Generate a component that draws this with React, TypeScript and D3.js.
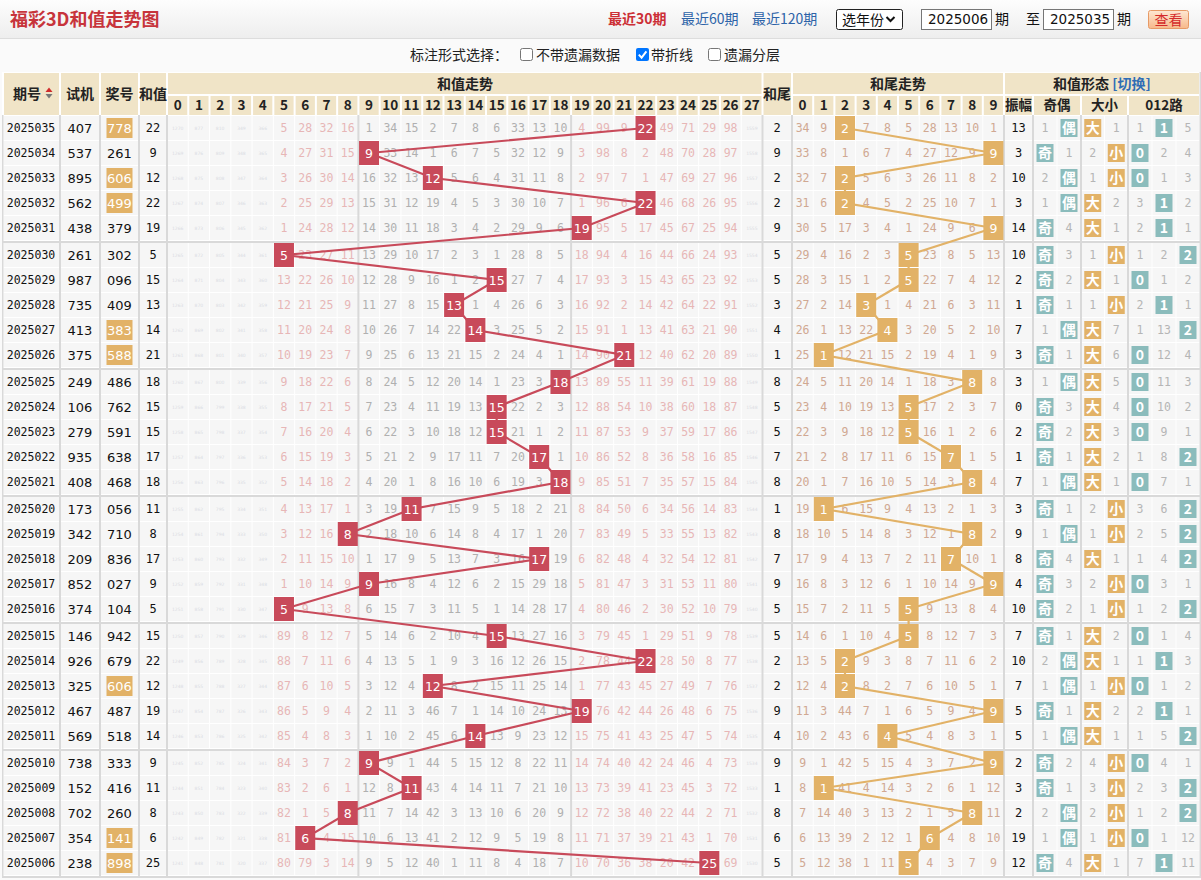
import React from 'react';
import * as d3 from 'd3';

// ---------- data (newest first, as shown top to bottom) ----------
const periods = ['2025035','2025034','2025033','2025032','2025031','2025030','2025029','2025028','2025027','2025026','2025025','2025024','2025023','2025022','2025021','2025020','2025019','2025018','2025017','2025016','2025015','2025014','2025013','2025012','2025011','2025010','2025009','2025008','2025007','2025006'];
const testNumbers = ['407','537','895','562','438','261','987','735','413','375','249','106','279','935','408','173','342','209','852','374','146','926','325','467','569','738','152','702','354','238'];
const prizeNumbers = ['778','261','606','499','379','302','096','409','383','588','486','762','591','638','468','056','710','836','027','104','942','679','606','487','518','333','416','260','141','898'];
const sumValues = [22,9,12,22,19,5,15,13,14,21,18,15,15,17,18,11,8,17,9,5,15,22,12,19,14,9,11,8,6,25];
const amplitudes = [13,3,10,3,14,10,2,1,7,3,3,0,2,1,7,3,9,8,4,10,7,10,7,5,5,2,3,2,19,12];

// omission values read on the oldest row (2025006); hit cells = 0
const sumMissOldest = [1241,848,781,320,337,80,79,3,14,9,5,12,40,1,11,8,4,18,7,10,70,36,38,20,42,0,69,1530];
const tailMissOldest = [5,12,38,1,11,0,4,3,7,9];
const oddEvenMissOldest = [0,4];
const bigSmallMissOldest = [0,1];
const mod3MissOldest = [7,0,11];

const sumTicks = d3.range(28).map(String);
const tailTicks = d3.range(10).map(String);
const oddEvenLabels = ['奇','偶'];
const bigSmallLabels = ['大','小'];
const mod3Labels = ['0','1','2'];

// ---------- helpers ----------
function missMatrix(hitIdx: number[], oldest: number[]): number[][] {
  const n = hitIdx.length;
  const out: number[][] = new Array(n);
  let prev = oldest.slice();
  out[n - 1] = prev;
  for (let i = n - 2; i >= 0; i--) {
    const cur = prev.map((v, c) => (c === hitIdx[i] ? 0 : v + 1));
    out[i] = cur;
    prev = cur;
  }
  return out;
}
const isPair = (s: string) => new Set(s.split('')).size === 2;

const CJK = '"Noto Sans CJK SC", "Noto Sans", sans-serif';
const MONO = '"DejaVu Sans Mono", monospace';
const SANS = '"DejaVu Sans", sans-serif';

const RED = '#c84a5a';
const ORANGE = '#e2b267';
const TEAL = '#8bbcbc';
const BEIGE = '#f0e4c7';
const CELL = '#f6f6f6';
const SEP = '#d9d9d9';

export default function App() {
  const N = periods.length;
  const tails = sumValues.map((s) => s % 10);
  const oe = sumValues.map((s) => (s % 2 === 1 ? 0 : 1));
  const bs = sumValues.map((s) => (s >= 14 ? 0 : 1));
  const m3 = sumValues.map((s) => s % 3);

  const sumMiss = missMatrix(sumValues, sumMissOldest);
  const tailMiss = missMatrix(tails, tailMissOldest);
  const oeMiss = missMatrix(oe, oddEvenMissOldest);
  const bsMiss = missMatrix(bs, bigSmallMissOldest);
  const m3Miss = missMatrix(m3, mod3MissOldest);

  const xSum = d3.scaleBand<number>().domain(d3.range(28)).range([167, 762.5]);
  const xTail = d3.scaleBand<number>().domain(d3.range(10)).range([792, 1004]);
  const xOE = d3.scaleBand<number>().domain([0, 1]).range([1033, 1081]);
  const xBS = d3.scaleBand<number>().domain([0, 1]).range([1081, 1128]);
  const xM3 = d3.scaleBand<number>().domain([0, 1, 2]).range([1128, 1200]);
  const yRow = d3.scaleLinear().domain([0, 1]).range([116, 141]);
  const rowTop = (i: number) => yRow(i) + Math.floor(i / 5) * 2;
  const RH = 24;

  const fixedCols: [number, number][] = [[3, 60], [60, 100], [100, 139], [139, 167], [762.5, 792], [1004, 1033]];
  const bandCols: [number, number][] = [];
  d3.range(28).forEach((c) => bandCols.push([xSum(c)!, xSum(c)! + xSum.bandwidth()]));
  d3.range(10).forEach((c) => bandCols.push([xTail(c)!, xTail(c)! + xTail.bandwidth()]));
  [0, 1].forEach((c) => bandCols.push([xOE(c)!, xOE(c)! + xOE.bandwidth()]));
  [0, 1].forEach((c) => bandCols.push([xBS(c)!, xBS(c)! + xBS.bandwidth()]));
  [0, 1, 2].forEach((c) => bandCols.push([xM3(c)!, xM3(c)! + xM3.bandwidth()]));
  const allCols = fixedCols.concat(bandCols);

  const cells: React.ReactNode[] = [];
  const texts: React.ReactNode[] = [];
  const marks: React.ReactNode[] = [];

  for (let i = 0; i < N; i++) {
    const top = rowTop(i);
    const cy = top + RH / 2;
    allCols.forEach(([a, b], k) => {
      cells.push(<rect key={`c${i}-${k}`} x={a + 0.5} y={top} width={b - a - 1} height={RH} fill={CELL} />);
    });
    texts.push(<text key={`p${i}`} x={31} y={cy} dy="0.35em" textAnchor="middle" fontFamily={MONO} fontSize={11.5} fill="#111">{periods[i]}</text>);
    texts.push(<text key={`t${i}`} x={80} y={cy} dy="0.36em" textAnchor="middle" fontFamily={SANS} fontSize={13} fill="#111">{testNumbers[i]}</text>);
    if (isPair(prizeNumbers[i])) {
      marks.push(<rect key={`ph${i}`} x={106.5} y={cy - 10} width={26} height={20} fill={ORANGE} />);
    }
    texts.push(<text key={`s${i}`} x={153} y={cy} dy="0.35em" textAnchor="middle" fontFamily={MONO} fontSize={12} fill="#111">{sumValues[i]}</text>);
    texts.push(<text key={`w${i}`} x={777} y={cy} dy="0.35em" textAnchor="middle" fontFamily={MONO} fontSize={12} fill="#111">{tails[i]}</text>);
    texts.push(<text key={`a${i}`} x={1018.5} y={cy} dy="0.35em" textAnchor="middle" fontFamily={MONO} fontSize={12} fill="#111">{amplitudes[i]}</text>);

    d3.range(28).forEach((c) => {
      if (c === sumValues[i]) return;
      const v = sumMiss[i][c];
      const cx = xSum(c)! + xSum.bandwidth() / 2;
      if (v >= 100) {
        texts.push(<text key={`sm${i}-${c}`} x={cx} y={cy} dy="0.35em" textAnchor="middle" fontFamily={SANS} fontSize={4.5} fill="#dadce3">{v}</text>);
      } else {
        const pink = c <= 8 || c >= 19;
        texts.push(<text key={`sm${i}-${c}`} x={cx} y={cy} dy="0.35em" textAnchor="middle" fontFamily={MONO} fontSize={11.5} fill={pink ? '#e7b6b6' : '#b0b0b0'}>{v}</text>);
      }
    });
    d3.range(10).forEach((c) => {
      if (c === tails[i]) return;
      const cx = xTail(c)! + xTail.bandwidth() / 2;
      texts.push(<text key={`tm${i}-${c}`} x={cx} y={cy} dy="0.35em" textAnchor="middle" fontFamily={MONO} fontSize={11.5} fill="#d0a892">{tailMiss[i][c]}</text>);
    });
    const formGroup = (scale: d3.ScaleBand<number>, hit: number, miss: number[], labels: string[], color: string, key: string) => {
      scale.domain().forEach((c) => {
        const cx = scale(c)! + scale.bandwidth() / 2;
        if (c === hit) {
          marks.push(<rect key={`${key}b${i}-${c}`} x={cx - 8.5} y={cy - 9} width={17} height={18} fill={color} />);
          marks.push(<text key={`${key}l${i}-${c}`} x={cx} y={cy} dy="0.36em" textAnchor="middle" fontFamily={CJK} fontWeight="bold" fontSize={14} fill="#fff">{labels[c]}</text>);
        } else {
          texts.push(<text key={`${key}m${i}-${c}`} x={cx} y={cy} dy="0.35em" textAnchor="middle" fontFamily={MONO} fontSize={11.5} fill="#b5b5b5">{miss[c]}</text>);
        }
      });
    };
    formGroup(xOE, oe[i], oeMiss[i], oddEvenLabels, TEAL, 'oe');
    formGroup(xBS, bs[i], bsMiss[i], bigSmallLabels, ORANGE, 'bs');
    formGroup(xM3, m3[i], m3Miss[i], mod3Labels, TEAL, 'm3');
  }

  const prizeTexts = prizeNumbers.map((p, i) => (
    <text key={`pt${i}`} x={119.5} y={rowTop(i) + RH / 2} dy="0.36em" textAnchor="middle" fontFamily={SANS} fontSize={13} fill={isPair(p) ? '#fff' : '#111'}>{p}</text>
  ));

  const line = d3.line<[number, number]>();
  const sumPts: [number, number][] = sumValues.map((s, i) => [xSum(s)! + xSum.bandwidth() / 2, rowTop(i) + RH / 2]);
  const tailPts: [number, number][] = tails.map((t, i) => [xTail(t)! + xTail.bandwidth() / 2, rowTop(i) + RH / 2]);

  const sumHits = sumValues.map((s, i) => {
    const [cx, cy] = sumPts[i];
    return (
      <g key={`sh${i}`}>
        <rect x={cx - 10} y={cy - 12} width={20} height={24} fill={RED} />
        <text x={cx} y={cy} dy="0.36em" textAnchor="middle" fontFamily={SANS} fontSize={12.5} fill="#fff">{s}</text>
      </g>
    );
  });
  const tailHits = tails.map((t, i) => {
    const [cx, cy] = tailPts[i];
    return (
      <g key={`th${i}`}>
        <rect x={cx - 10} y={cy - 12} width={20} height={24} fill={ORANGE} />
        <text x={cx} y={cy} dy="0.36em" textAnchor="middle" fontFamily={SANS} fontSize={12.5} fill="#fff">{t}</text>
      </g>
    );
  });

  const groupSeps = d3.range(1, 6).map((g) => (
    <rect key={`g${g}`} x={3} y={rowTop(g * 5) - 2} width={1197} height={2} fill={SEP} />
  ));
  const tableBottom = rowTop(N - 1) + RH;
  const vLines = [60, 100, 139, 167, xSum(9)!, xSum(19)!, 762.5, 792, 1004, 1033, 1081, 1128].map((x, k) => (
    <rect key={`v${k}`} x={x - 1} y={115} width={2} height={tableBottom - 115 + 1} fill={SEP} />
  ));

  const hdrBold = { fontFamily: CJK, fontWeight: 'bold' as const, fill: '#222' };
  const header: React.ReactNode[] = [];
  const hcell = (key: string, x0: number, x1: number, y0: number, y1: number) =>
    header.push(<rect key={key} x={x0 + 1} y={y0 + 1} width={x1 - x0 - 2} height={y1 - y0 - 2} fill={BEIGE} />);
  hcell('h-id', 3, 60, 72, 116);
  hcell('h-test', 60, 100, 72, 116);
  hcell('h-prize', 100, 139, 72, 116);
  hcell('h-sum', 139, 167, 72, 116);
  hcell('h-st', 167, 762.5, 72, 95);
  hcell('h-tail', 762.5, 792, 72, 116);
  hcell('h-tt', 792, 1004, 72, 95);
  hcell('h-form', 1004, 1200, 72, 95);
  hcell('h-amp', 1004, 1033, 95, 116);
  hcell('h-oe', 1033, 1081, 95, 116);
  hcell('h-bs', 1081, 1128, 95, 116);
  hcell('h-m3', 1128, 1200, 95, 116);
  d3.range(28).forEach((c) => hcell(`h-s${c}`, xSum(c)!, xSum(c)! + xSum.bandwidth(), 95, 116));
  d3.range(10).forEach((c) => hcell(`h-t${c}`, xTail(c)!, xTail(c)! + xTail.bandwidth(), 95, 116));

  const hy = 94;
  const headerText = (
    <g>
      <text x={27} y={hy} dy="0.36em" textAnchor="middle" fontSize={14} {...hdrBold}>期号</text>
      <path d="M45.5,92 L49,87.5 L52.5,92 Z" fill="#d12b2b" />
      <path d="M45.5,94 L49,98.5 L52.5,94 Z" fill="#777" />
      <text x={80} y={hy} dy="0.36em" textAnchor="middle" fontSize={14} {...hdrBold}>试机</text>
      <text x={119.5} y={hy} dy="0.36em" textAnchor="middle" fontSize={14} {...hdrBold}>奖号</text>
      <text x={153} y={hy} dy="0.36em" textAnchor="middle" fontSize={14} {...hdrBold}>和值</text>
      <text x={465} y={84} dy="0.36em" textAnchor="middle" fontSize={14} {...hdrBold}>和值走势</text>
      <text x={777} y={hy} dy="0.36em" textAnchor="middle" fontSize={14} {...hdrBold}>和尾</text>
      <text x={898} y={84} dy="0.36em" textAnchor="middle" fontSize={14} {...hdrBold}>和尾走势</text>
      <text x={1102} y={84} dy="0.36em" textAnchor="middle" fontSize={14} {...hdrBold}>
        和值形态 <tspan fill="#2f6db5">[切换]</tspan>
      </text>
      {sumTicks.map((t, c) => (
        <text key={`st${c}`} x={xSum(c)! + xSum.bandwidth() / 2} y={105.5} dy="0.36em" textAnchor="middle" fontSize={13.5} {...hdrBold}>{t}</text>
      ))}
      {tailTicks.map((t, c) => (
        <text key={`tt${c}`} x={xTail(c)! + xTail.bandwidth() / 2} y={105.5} dy="0.36em" textAnchor="middle" fontSize={13.5} {...hdrBold}>{t}</text>
      ))}
      <text x={1018.5} y={105.5} dy="0.36em" textAnchor="middle" fontSize={13.5} {...hdrBold}>振幅</text>
      <text x={1057} y={105.5} dy="0.36em" textAnchor="middle" fontSize={13.5} {...hdrBold}>奇偶</text>
      <text x={1104.5} y={105.5} dy="0.36em" textAnchor="middle" fontSize={13.5} {...hdrBold}>大小</text>
      <text x={1164} y={105.5} dy="0.36em" textAnchor="middle" fontSize={13.5} {...hdrBold}>012路</text>
    </g>
  );

  const topBar = (
    <g>
      <defs>
        <linearGradient id="topg" x1="0" y1="0" x2="0" y2="1">
          <stop offset="0" stopColor="#fdfdfd" />
          <stop offset="1" stopColor="#eeeeee" />
        </linearGradient>
        <linearGradient id="btng" x1="0" y1="0" x2="0" y2="1">
          <stop offset="0" stopColor="#fee8d2" />
          <stop offset="1" stopColor="#f7b88a" />
        </linearGradient>
      </defs>
      <rect x={0} y={0} width={1201} height={38} fill="url(#topg)" />
      <rect x={0} y={38} width={1201} height={1} fill="#dddddd" />
      <text x={10} y={20} dy="0.36em" fontFamily={CJK} fontWeight="bold" fontSize={18} fill="#c7343b">福彩3D和值走势图</text>
      <text x={608} y={19} dy="0.36em" fontFamily={CJK} fontWeight="bold" fontSize={14} fill="#cc2f36">最近30期</text>
      <text x={681} y={19} dy="0.36em" fontFamily={CJK} fontSize={14} fill="#2c63a8">最近60期</text>
      <text x={752} y={19} dy="0.36em" fontFamily={CJK} fontSize={14} fill="#2c63a8">最近120期</text>
      <rect x={836.5} y={9.5} width={66} height={20} rx={2} fill="#fff" stroke="#222" />
      <text x={842} y={19.5} dy="0.36em" fontFamily={CJK} fontSize={14} fill="#111">选年份</text>
      <path d="M886.5,17 L890.5,21 L894.5,17" fill="none" stroke="#111" strokeWidth={2} />
      <rect x={921.5} y={9.5} width={70} height={20} fill="#fff" stroke="#767676" />
      <text x={928} y={19.5} dy="0.36em" fontFamily={SANS} fontSize={13.5} fill="#111">2025006</text>
      <text x={995} y={19} dy="0.36em" fontFamily={CJK} fontSize={14} fill="#111">期</text>
      <text x={1026} y={19} dy="0.36em" fontFamily={CJK} fontSize={14} fill="#111">至</text>
      <rect x={1043.5} y={9.5} width={70} height={20} fill="#fff" stroke="#767676" />
      <text x={1050} y={19.5} dy="0.36em" fontFamily={SANS} fontSize={13.5} fill="#111">2025035</text>
      <text x={1117} y={19} dy="0.36em" fontFamily={CJK} fontSize={14} fill="#111">期</text>
      <rect x={1148.5} y={10.5} width={40} height={18} rx={2} fill="url(#btng)" stroke="#e79a66" />
      <text x={1168.5} y={19.5} dy="0.36em" textAnchor="middle" fontFamily={CJK} fontSize={14} fill="#d42a2a">查看</text>
      <text x={410} y={55} dy="0.36em" fontFamily={CJK} fontSize={14} fill="#222">标注形式选择：</text>
      <rect x={520.5} y={48.5} width={12} height={12} rx={2} fill="#fff" stroke="#767676" />
      <text x={536} y={55} dy="0.36em" fontFamily={CJK} fontSize={14} fill="#222">不带遗漏数据</text>
      <rect x={636} y={48} width={13} height={13} rx={2} fill="#0075ff" />
      <path d="M638.8,54.6 L641.6,57.6 L646.4,51.4" fill="none" stroke="#fff" strokeWidth={2} />
      <text x={651} y={55} dy="0.36em" fontFamily={CJK} fontSize={14} fill="#222">带折线</text>
      <rect x={708.5} y={48.5} width={12} height={12} rx={2} fill="#fff" stroke="#767676" />
      <text x={724} y={55} dy="0.36em" fontFamily={CJK} fontSize={14} fill="#222">遗漏分层</text>
    </g>
  );

  return (
    <svg width={1201} height={880} viewBox="0 0 1201 880" style={{ position: 'absolute', left: 0, top: 0, display: 'block' }}>
      <rect x={0} y={0} width={1201} height={880} fill="#fafafa" />
      {topBar}
      <rect x={2} y={72} width={1199} height={tableBottom - 72 + 3} fill="#ffffff" />
      {header}
      {headerText}
      {cells}
      {groupSeps}
      {vLines}
      <rect x={2} y={115} width={1.5} height={tableBottom - 115 + 2} fill={SEP} />
      <rect x={1199.5} y={72} width={1.5} height={tableBottom - 72 + 2} fill={SEP} />
      <rect x={2} y={tableBottom + 1} width={1199} height={2} fill={SEP} />
      {texts}
      <path d={line(sumPts) || ''} fill="none" stroke={RED} strokeWidth={2.2} />
      <path d={line(tailPts) || ''} fill="none" stroke={ORANGE} strokeWidth={2.2} />
      {marks}
      {prizeTexts}
      {sumHits}
      {tailHits}
    </svg>
  );
}
